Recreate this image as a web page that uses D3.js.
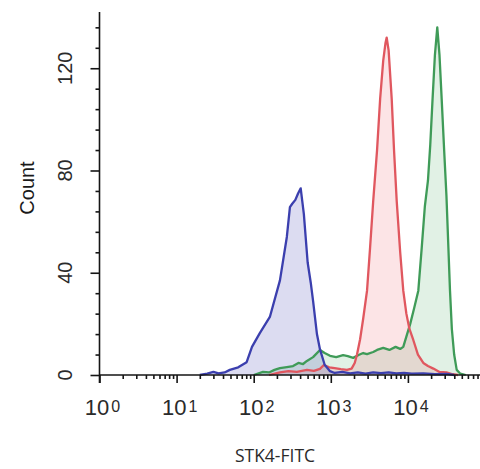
<!DOCTYPE html>
<html>
<head>
<meta charset="utf-8">
<script src="https://cdn.jsdelivr.net/npm/d3@7"></script>
<style>
  html, body { margin: 0; padding: 0; background: #fff; }
  svg { display: block; }
</style>
</head>
<body>
<svg id="chart" width="480" height="469"></svg>
<script>
// STK4-FITC flow cytometry histograms: fluorescence intensity vs. event count

// Blue population (low STK4-FITC signal)
const blueIntensity = [20, 25, 30, 35, 42, 49, 63, 81, 95, 120, 162, 219, 269, 295, 316, 347, 376, 407, 447, 501, 550, 589, 661, 724, 832, 977, 1122, 1413, 1778, 2239, 2818, 3548, 4467, 5623, 7079, 8913, 11220, 15849, 22387, 31623, 39811];
const blueCount     = [0, 0.5, 1.2, 0.6, 1.0, 2, 3, 5, 11, 16.4, 22.7, 37, 54, 65.7, 67, 68.5, 71, 73, 63, 44, 36, 29, 16, 10, 4, 1.5, 0.8, 1.2, 0.6, 1.0, 0.5, 1.0, 0.7, 1.0, 0.6, 0.8, 0.5, 0.6, 0.3, 0.4, 0];

// Red population
const redIntensity = [158, 219, 282, 363, 490, 603, 724, 813, 955, 1122, 1349, 1622, 1862, 2042, 2188, 2399, 2630, 2951, 3236, 3548, 3981, 4365, 4786, 5129, 5309, 5623, 6166, 6607, 7161, 7943, 8710, 9550, 10471, 11749, 13490, 15849, 18197, 21380, 25704, 31623, 38019, 44668];
const redCount     = [0, 1.0, 1.5, 1.2, 2.0, 1.6, 2.4, 3.9, 3.0, 2.7, 2.3, 2.0, 2.5, 4.7, 8, 14, 22, 33, 50, 68, 88, 108, 123, 130, 132, 127, 108, 88, 68, 48, 33, 24, 18, 13.7, 8, 4.7, 3.5, 2.5, 1.2, 1.0, 0.3, 0];

// Green population (highest signal)
const greenIntensity = [100, 132, 158, 186, 219, 269, 324, 380, 437, 490, 589, 724, 832, 977, 1175, 1445, 1660, 1950, 2291, 2630, 2951, 3548, 3981, 4786, 5754, 6918, 7943, 8710, 9550, 10715, 12023, 13646, 15136, 16596, 18197, 19498, 20893, 22387, 24044, 25704, 27416, 29512, 31623, 33497, 35156, 37154, 39811, 42954, 47863, 56234];
const greenCount     = [0, 1.2, 1.0, 2.0, 2.7, 3.1, 3.5, 4.7, 4.3, 5.5, 7, 9.8, 8.6, 7.5, 7, 7.8, 7.4, 6.7, 7.8, 8.6, 8.2, 9.0, 9.8, 10.6, 9.8, 11, 10.2, 11, 15, 20, 26, 33, 50, 66, 76, 90, 108, 125, 136, 125, 108, 88, 70, 50, 33, 18, 8, 2, 0.5, 0];

// Axis ticks
const yMajorTicks = [0, 40, 80, 120];
const yMinorTicks = [8, 16, 24, 32, 48, 56, 64, 72, 88, 96, 104, 112, 128, 136];
const xDecadeExponents = [0, 1, 2, 3, 4];
const xAxisTitle = "STK4-FITC";
const yAxisTitle = "Count";

const svg = d3.select("#chart");

const x = d3.scaleLog().domain([1, 1e5]).range([99.5, 485]);
const y = d3.scaleLinear().domain([0, 142]).range([375, 12]);

const series = [
  { name: "green", xs: greenIntensity, ys: greenCount, stroke: "#3f9b58", fill: "rgba(80,170,100,0.17)" },
  { name: "red",   xs: redIntensity,   ys: redCount,   stroke: "#e0575f", fill: "rgba(235,95,105,0.17)" },
  { name: "blue",  xs: blueIntensity,  ys: blueCount,  stroke: "#3b3fae", fill: "rgba(70,70,180,0.19)" }
];
series.forEach(s => { s.points = s.xs.map((v, i) => [v, s.ys[i]]); });

const area = d3.area().x(d => x(d[0])).y0(y(0)).y1(d => y(d[1]));
const line = d3.line().x(d => x(d[0])).y(d => y(d[1]));

const plot = svg.append("g");
plot.selectAll("path.fill").data(series).join("path")
  .attr("class", "fill")
  .attr("d", d => area(d.points))
  .attr("fill", d => d.fill)
  .attr("stroke", "none");
plot.selectAll("path.curve").data(series).join("path")
  .attr("class", "curve")
  .attr("d", d => line(d.points))
  .attr("fill", "none")
  .attr("stroke", d => d.stroke)
  .attr("stroke-width", 2.3)
  .attr("stroke-linejoin", "round");

// X axis: minor log ticks, then decades
const xMinor = [];
xDecadeExponents.forEach(e => { for (let m = 2; m <= 9; m++) xMinor.push(m * Math.pow(10, e)); });
const xMajor = xDecadeExponents.map(e => Math.pow(10, e));

const axisColor = "#151515";
const gxMinor = svg.append("g").attr("transform", `translate(0,${y(0)})`)
  .call(d3.axisBottom(x).tickValues(xMinor).tickSize(4).tickFormat(""));
const gxMajor = svg.append("g").attr("transform", `translate(0,${y(0)})`)
  .call(d3.axisBottom(x).tickValues(xMajor).tickSize(8).tickFormat(""));
gxMajor.select(".domain").attr("d", `M${x(1)},0H480`);
gxMinor.select(".domain").remove();

// Y axis
const gyMinor = svg.append("g").attr("transform", `translate(${x(1)},0)`)
  .call(d3.axisLeft(y).tickValues(yMinorTicks).tickSize(4).tickFormat(""));
const gyMajor = svg.append("g").attr("transform", `translate(${x(1)},0)`)
  .call(d3.axisLeft(y).tickValues(yMajorTicks).tickSize(9).tickFormat(""));
gyMinor.select(".domain").remove();
gyMajor.select(".domain").attr("d", `M0,${y(0) + 8}V${y(142)}`);

svg.selectAll(".domain, .tick line")
  .attr("stroke", axisColor)
  .attr("stroke-width", 1.6);

// Y tick labels, rotated
svg.append("g").selectAll("text").data(yMajorTicks).join("text")
  .attr("transform", d => `translate(72,${y(d)}) rotate(-90)`)
  .attr("text-anchor", "middle")
  .attr("font-family", "Liberation Sans, Arial, sans-serif")
  .attr("font-size", 20)
  .attr("fill", "#2a2a2a")
  .text(d => d);

// X tick labels: 10 with superscript exponent
const xl = svg.append("g").selectAll("text").data(xDecadeExponents).join("text")
  .attr("x", d => x(Math.pow(10, d)) + 3)
  .attr("y", 415)
  .attr("text-anchor", "middle")
  .attr("font-family", "Liberation Sans, Arial, sans-serif")
  .attr("font-size", 22)
  .attr("fill", "#2a2a2a");
xl.append("tspan").text("10");
xl.append("tspan").attr("font-size", 16).attr("dx", 2).attr("dy", -3).text(d => d);

// Axis titles
svg.append("text")
  .attr("transform", `translate(34,188) rotate(-90)`)
  .attr("text-anchor", "middle")
  .attr("font-family", "Liberation Sans, Arial, sans-serif")
  .attr("font-size", 20)
  .attr("fill", "#1a1a1a")
  .text(yAxisTitle);

svg.append("text")
  .attr("x", 275)
  .attr("y", 462)
  .attr("text-anchor", "middle")
  .attr("font-family", "Open Sans, sans-serif")
  .attr("font-size", 17.5)
  .attr("fill", "#2a2a2a")
  .text(xAxisTitle);
</script>
</body>
</html>
